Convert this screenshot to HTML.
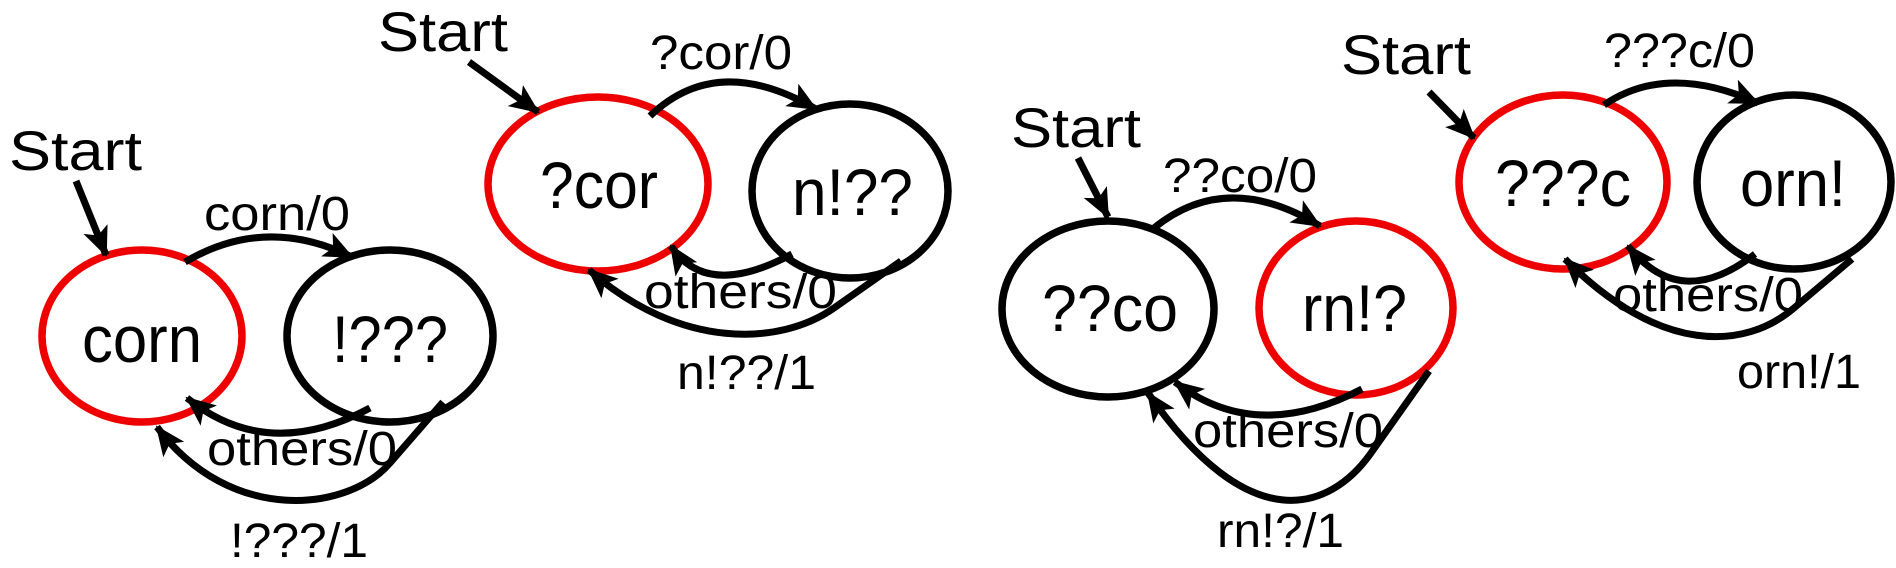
<!DOCTYPE html>
<html><head><meta charset="utf-8"><style>
html,body{margin:0;padding:0;background:#fff;}
svg{display:block;}
text{font-family:"Liberation Sans",Arial,sans-serif;fill:#000;}
.n{font-size:66px;}
.l{font-size:48px;}
.s{font-size:56px;}
</style></head><body>
<svg width="1896" height="568" viewBox="0 0 1896 568" xmlns="http://www.w3.org/2000/svg">
<defs>
<marker id="a" markerUnits="userSpaceOnUse" markerWidth="34" markerHeight="30" refX="28" refY="13" orient="auto">
<path d="M0,0 L30,13 L0,26 L7,13 z" fill="#000"/>
</marker>
</defs>
<g fill="none" stroke-width="7.5">
<ellipse cx="142" cy="336" rx="100" ry="86" stroke="#e00"/>
<ellipse cx="390" cy="336" rx="103" ry="86" stroke="#000"/>
<ellipse cx="598" cy="184" rx="110" ry="87" stroke="#e00"/>
<ellipse cx="850" cy="191" rx="98" ry="87" stroke="#000"/>
<ellipse cx="1108" cy="309" rx="106" ry="88" stroke="#000"/>
<ellipse cx="1356" cy="308" rx="97" ry="87" stroke="#e00"/>
<ellipse cx="1563" cy="182" rx="104" ry="87" stroke="#e00"/>
<ellipse cx="1794" cy="182" rx="97" ry="87" stroke="#000"/>
</g>
<g fill="none" stroke="#000" stroke-width="7" marker-end="url(#a)">
<path d="M76,181 L106,255"/>
<path d="M185,262 Q265.5,214.5 352,257"/>
<path d="M370,408 Q267.5,463 187,398"/>
<path d="M443,402 L390,463 C348,512 230,525 157,427"/>
<path d="M469,62 L538,112"/>
<path d="M650,116 Q717,51.5 816,109"/>
<path d="M792,254 Q706.5,300 671,246"/>
<path d="M901,261 L834,308 C780,346 680,350 589,270"/>
<path d="M1078,158 L1108,217"/>
<path d="M1154,228 Q1227,169 1320,226"/>
<path d="M1362,389 Q1255.5,444.5 1175,382"/>
<path d="M1429,371 L1371,453 C1330,511 1250,540 1148,393"/>
<path d="M1429,92 L1474,138"/>
<path d="M1604,105 Q1667,62 1758,103"/>
<path d="M1755,254 Q1680.5,312 1628,246"/>
<path d="M1852,259 L1794,308 C1745,350 1660,355 1565,259"/>
</g>
<text class="n" x="82" y="362" textLength="120" lengthAdjust="spacingAndGlyphs">corn</text>
<text class="n" x="332" y="362" textLength="116" lengthAdjust="spacingAndGlyphs">!???</text>
<text class="n" x="540" y="208" textLength="118" lengthAdjust="spacingAndGlyphs">?cor</text>
<text class="n" x="792" y="215" textLength="121" lengthAdjust="spacingAndGlyphs">n!??</text>
<text class="n" x="1042" y="331" textLength="136" lengthAdjust="spacingAndGlyphs">??co</text>
<text class="n" x="1302" y="331" textLength="105" lengthAdjust="spacingAndGlyphs">rn!?</text>
<text class="n" x="1495" y="206" textLength="136" lengthAdjust="spacingAndGlyphs">???c</text>
<text class="n" x="1740" y="206" textLength="106" lengthAdjust="spacingAndGlyphs">orn!</text>
<text class="s" x="9" y="170" textLength="133" lengthAdjust="spacingAndGlyphs">Start</text>
<text class="s" x="378" y="51" textLength="130" lengthAdjust="spacingAndGlyphs">Start</text>
<text class="s" x="1011" y="147" textLength="130" lengthAdjust="spacingAndGlyphs">Start</text>
<text class="s" x="1341" y="74" textLength="130" lengthAdjust="spacingAndGlyphs">Start</text>
<text class="l" x="204" y="230" textLength="146" lengthAdjust="spacingAndGlyphs">corn/0</text>
<text class="l" x="207" y="465" textLength="190" lengthAdjust="spacingAndGlyphs">others/0</text>
<text class="l" x="230" y="557" textLength="138" lengthAdjust="spacingAndGlyphs">!???/1</text>
<text class="l" x="650" y="69" textLength="142" lengthAdjust="spacingAndGlyphs">?cor/0</text>
<text class="l" x="644" y="308" textLength="193" lengthAdjust="spacingAndGlyphs">others/0</text>
<text class="l" x="677" y="389" textLength="139" lengthAdjust="spacingAndGlyphs">n!??/1</text>
<text class="l" x="1163" y="192" textLength="154" lengthAdjust="spacingAndGlyphs">??co/0</text>
<text class="l" x="1193" y="447" textLength="190" lengthAdjust="spacingAndGlyphs">others/0</text>
<text class="l" x="1217" y="547" textLength="127" lengthAdjust="spacingAndGlyphs">rn!?/1</text>
<text class="l" x="1604" y="67" textLength="151" lengthAdjust="spacingAndGlyphs">???c/0</text>
<text class="l" x="1613" y="311" textLength="190" lengthAdjust="spacingAndGlyphs">others/0</text>
<text class="l" x="1737" y="388" textLength="124" lengthAdjust="spacingAndGlyphs">orn!/1</text>
</svg>
</body></html>
